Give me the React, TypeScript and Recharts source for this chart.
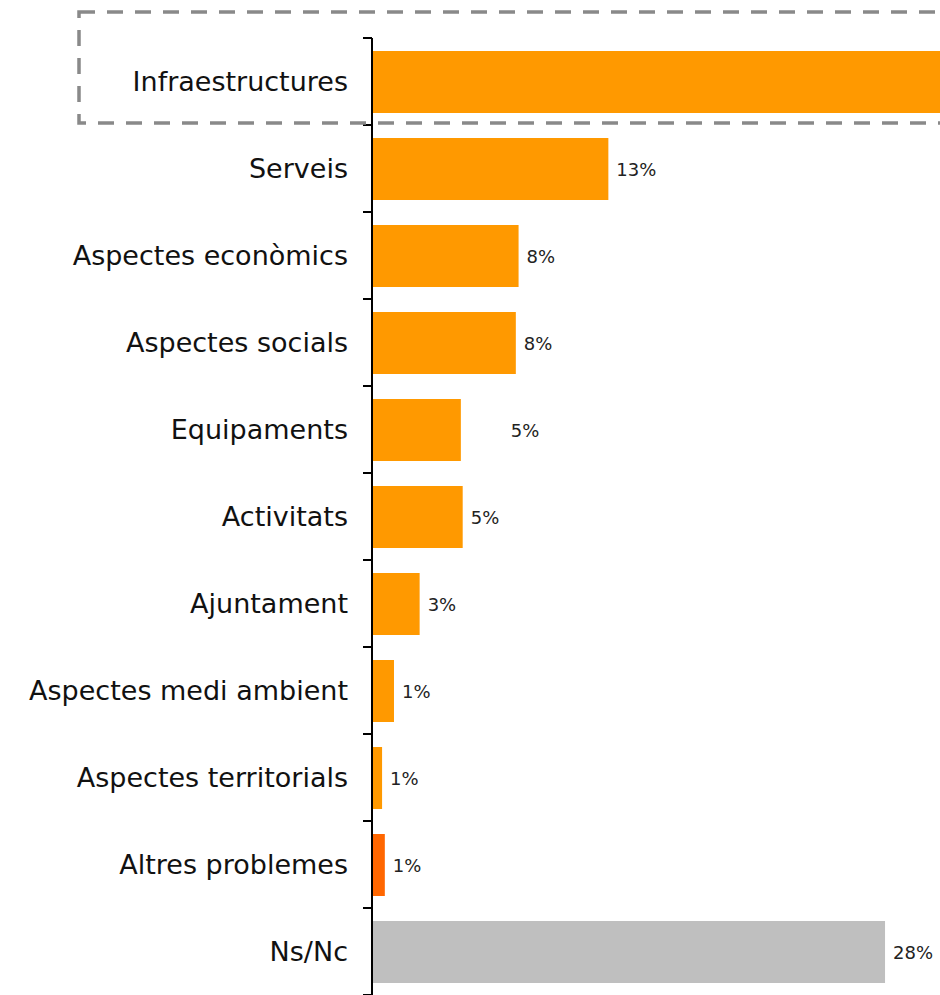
import React from 'react';
import { BarChart, Bar, XAxis, YAxis, Cell, LabelList } from 'recharts';

const categories = [
  'Infraestructures',
  'Serveis',
  'Aspectes econòmics',
  'Aspectes socials',
  'Equipaments',
  'Activitats',
  'Ajuntament',
  'Aspectes medi ambient',
  'Aspectes territorials',
  'Altres problemes',
  'Ns/Nc',
];

const values = [33, 12.9, 8.0, 7.85, 4.85, 4.95, 2.6, 1.2, 0.55, 0.7, 28];

const valueLabels = ['', '13%', '8%', '8%', '5%', '5%', '3%', '1%', '1%', '1%', '28%'];

const data = categories.map((name, i) => ({ name, value: values[i], label: valueLabels[i] }));

const ORANGE = '#FF9900';
const barColors = [ORANGE, ORANGE, ORANGE, ORANGE, ORANGE, ORANGE, ORANGE, ORANGE, ORANGE, '#FF6600', '#BFBFBF'];
const labelExtraShift: Record<string, number> = { Equipaments: 42 };

const FONT = '"DejaVu Sans", sans-serif';
const TICK_MARGIN = 24;
const TICK_LEN = 9;

const CategoryTick = (props: any) => {
  const { x, y, payload, index, visibleTicksCount } = props;
  const half = payload && payload.offset ? payload.offset : 0;
  const axisX = Number(x) + TICK_MARGIN;
  const isLast = index === visibleTicksCount - 1;
  return (
    <g>
      <text
        x={x}
        y={y}
        textAnchor="end"
        dominantBaseline="central"
        fontFamily={FONT}
        fontSize={27}
        fill="#111"
      >
        {payload.value}
      </text>
      <line x1={axisX - TICK_LEN} x2={axisX} y1={y - half} y2={y - half} stroke="#000" strokeWidth={2} />
      {isLast && (
        <line x1={axisX - TICK_LEN} x2={axisX} y1={y + half} y2={y + half} stroke="#000" strokeWidth={2} />
      )}
    </g>
  );
};

const ValueLabel = (props: any) => {
  const { x, y, width, height, value, index } = props;
  if (!value) return null;
  const name = categories[index];
  const shift = labelExtraShift[name] || 0;
  return (
    <text
      x={Number(x) + Number(width) + 8 + shift}
      y={Number(y) + Number(height) / 2}
      dominantBaseline="central"
      textAnchor="start"
      fontFamily={FONT}
      fontSize={18}
      fill="#222"
    >
      {value}
    </text>
  );
};

export default function App() {
  return (
    <div
      style={{
        position: 'absolute',
        left: 0,
        top: 0,
        width: 940,
        height: 995,
        overflow: 'hidden',
        background: '#fff',
      }}
    >
      <BarChart
        width={940}
        height={995}
        data={data}
        layout="vertical"
        margin={{ top: 38, right: 0, bottom: 0, left: 0 }}
        barSize={62}
      >
        <XAxis type="number" hide domain={[0, 31]} allowDataOverflow />
        <YAxis
          type="category"
          dataKey="name"
          width={372}
          axisLine={{ stroke: '#000', strokeWidth: 2 }}
          tickLine={false}
          tickSize={0}
          tickMargin={TICK_MARGIN}
          interval={0}
          tick={<CategoryTick />}
        />
        <Bar dataKey="value" isAnimationActive={false}>
          {data.map((d, i) => (
            <Cell key={d.name} fill={barColors[i]} />
          ))}
          <LabelList dataKey="label" content={ValueLabel} />
        </Bar>
      </BarChart>
      <svg
        width={940}
        height={995}
        style={{ position: 'absolute', left: 0, top: 0, pointerEvents: 'none' }}
      >
        <rect
          x={79}
          y={12}
          width={900}
          height={111}
          fill="none"
          stroke="#898989"
          strokeWidth={3.5}
          strokeDasharray="16 12"
        />
      </svg>
    </div>
  );
}
